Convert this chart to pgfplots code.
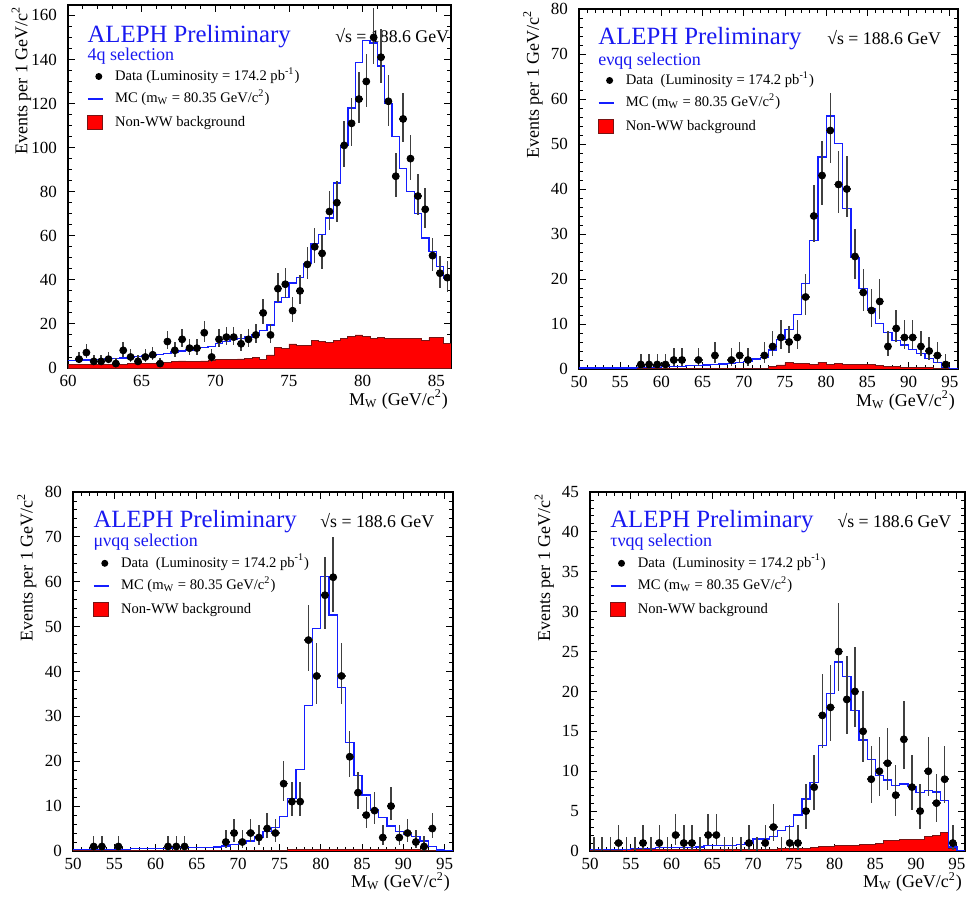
\documentclass[border=0pt]{standalone}
\usepackage{fontspec}
\setmainfont{Liberation Serif}
\usepackage{pgfplots}
\usepackage{pgfplotstable}
\pgfplotsset{compat=1.18}

\definecolor{mcblue}{RGB}{20,30,255}
\definecolor{alephblue}{RGB}{25,25,240}
\definecolor{bkgred}{RGB}{255,0,0}
\definecolor{bkgedge}{RGB}{120,20,20}

% ---- 4q selection (0.5 GeV bins) ----
\pgfplotstableread{
x y ep em
60.75 4 3.2 1.9
61.25 7 3.8 2.6
61.75 3 2.9 1.7
62.25 3 2.9 1.7
62.75 4 3.2 1.9
63.25 2 2.7 1.3
63.75 8 4.0 2.8
64.25 5 3.4 2.2
64.75 3 2.9 1.7
65.25 5 3.4 2.2
65.75 6 3.6 2.4
66.25 2 2.7 1.3
66.75 12 4.6 3.4
67.25 8 4.0 2.8
67.75 13 4.7 3.6
68.25 9 4.1 3.0
68.75 9 4.1 3.0
69.25 16 5.1 4.0
69.75 5 3.4 2.2
70.25 13 4.7 3.6
70.75 14 4.8 3.7
71.25 14 4.8 3.7
71.75 11 4.4 3.3
72.25 13 4.7 3.6
72.75 15 5.0 3.8
73.25 25 6.1 5.0
73.75 15 5.0 3.8
74.25 36 7.1 6.0
74.75 38 7.2 6.1
75.25 26 6.2 5.1
75.75 35 7.0 5.9
76.25 47 7.9 6.8
76.75 55 8.5 7.4
77.25 52 8.3 7.2
77.75 71 9.5 8.4
78.25 75 9.7 8.7
78.75 101 11.1 10.0
79.25 111 11.6 10.5
79.75 122 12.1 11.0
80.25 130 12.4 11.4
80.75 150 13.3 12.2
81.25 141 12.9 11.9
81.75 121 12.0 11.0
82.25 87 10.4 9.3
82.75 113 11.7 10.6
83.25 95 10.8 9.7
83.75 78 9.9 8.8
84.25 72 9.5 8.5
84.75 51 8.2 7.1
85.25 43 7.6 6.5
85.75 41 7.5 6.4
}\fqData

\pgfplotstableread{
x y
60.0 3.3
60.5 3.4
61.0 3.6
61.5 3.8
62.0 4.0
62.5 4.2
63.0 4.4
63.5 4.6
64.0 4.9
64.5 5.2
65.0 5.5
65.5 5.8
66.0 6.2
66.5 6.7
67.0 7.2
67.5 7.7
68.0 8.2
68.5 8.7
69.0 9.3
69.5 9.9
70.0 11.2
70.5 11.9
71.0 13.0
71.5 13.5
72.0 14.0
72.5 15.0
73.0 17.0
73.5 19.5
74.0 30.0
74.5 32.0
75.0 38.5
75.5 41.0
76.0 47.5
76.5 56.5
77.0 60.5
77.5 68.0
78.0 84.0
78.5 101.0
79.0 118.0
79.5 138.5
80.0 148.5
80.5 147.5
81.0 137.0
81.5 120.0
82.0 105.0
82.5 90.5
83.0 80.0
83.5 70.0
84.0 59.0
84.5 53.0
85.0 46.0
85.5 40.5
86.0 40.5
}\fqMC

\pgfplotstableread{
x y
60.0 1.5
60.5 1.5
61.0 1.6
61.5 1.6
62.0 1.7
62.5 1.7
63.0 1.8
63.5 1.8
64.0 1.9
64.5 2.0
65.0 2.1
65.5 2.2
66.0 2.4
66.5 2.5
67.0 3.0
67.5 3.2
68.0 3.0
68.5 3.0
69.0 3.2
69.5 3.3
70.0 3.8
70.5 4.0
71.0 4.0
71.5 4.1
72.0 4.2
72.5 4.6
73.0 3.8
73.5 5.9
74.0 9.2
74.5 8.9
75.0 10.9
75.5 10.4
76.0 10.4
76.5 12.4
77.0 12.0
77.5 11.5
78.0 12.3
78.5 13.5
79.0 14.2
79.5 15.0
80.0 14.5
80.5 13.5
81.0 13.9
81.5 13.5
82.0 13.5
82.5 13.4
83.0 13.4
83.5 13.6
84.0 12.7
84.5 13.8
85.0 13.8
85.5 11.2
86.0 11.2
}\fqBkg

% ---- e nu qq selection ----
\pgfplotstableread{
x y ep em
57.5 1 2.3 0.9
58.5 1 2.3 0.9
59.5 1 2.3 0.9
60.5 1 2.3 0.9
61.5 2 2.7 1.3
62.5 2 2.7 1.3
64.5 2 2.7 1.3
66.5 3 2.9 1.7
68.5 2 2.7 1.3
69.5 3 2.9 1.7
70.5 2 2.7 1.3
72.5 3 2.9 1.7
73.5 5 3.4 2.2
74.5 7 3.8 2.6
75.5 6 3.6 2.4
76.5 7 3.8 2.6
77.5 16 5.1 4.0
78.5 34 6.9 5.8
79.5 43 7.6 6.5
80.5 53 8.3 7.3
81.5 41 7.5 6.4
82.5 40 7.4 6.3
83.5 25 6.1 5.0
84.5 17 5.2 4.1
85.5 13 4.7 3.6
86.5 15 5.0 3.8
87.5 5 3.4 2.2
88.5 9 4.1 3.0
89.5 7 3.8 2.6
90.5 7 3.8 2.6
91.5 5 3.4 2.2
92.5 4 3.2 1.9
93.5 3 2.9 1.7
94.5 1 2.3 0.9
}\evData

\pgfplotstableread{
x y
50 0.2
51 0.2
52 0.2
53 0.2
54 0.2
55 0.2
56 0.2
57 0.3
58 0.3
59 0.4
60 0.5
61 0.6
62 0.6
63 0.7
64 0.8
65 0.9
66 1.0
67 1.1
68 1.2
69 1.4
70 1.6
71 2.2
72 2.6
73 4.2
74 6.6
75 8.7
76 12.1
77 19.0
78 28.6
79 47.1
80 56.2
81 50.1
82 35.7
83 24.7
84 17.9
85 13.3
86 10.1
87 8.1
88 6.3
89 5.3
90 4.4
91 3.5
92 2.4
93 1.4
94 0.4
95 0.15
96 0.15
}\evMC

\pgfplotstableread{
x y
50 0.1
60 0.1
70 0.1
72 0.2
73 0.5
74 0.9
75 1.4
76 1.3
77 1.2
78 1.1
79 1.5
80 1.1
81 1.3
82 1.0
83 1.1
84 1.0
85 1.0
86 0.8
87 0.6
88 0.5
89 0.4
90 0.4
91 0.3
92 0.3
93 0.2
94 0.2
95 0.1
96 0.1
}\evBkg

% ---- mu nu qq selection ----
\pgfplotstableread{
x y ep em
52.5 1 2.3 0.9
53.5 1 2.3 0.9
55.5 1 2.3 0.9
61.5 1 2.3 0.9
62.5 1 2.3 0.9
63.5 1 2.3 0.9
68.5 2 2.7 1.3
69.5 4 3.2 1.9
70.5 2 2.7 1.3
71.5 4 3.2 1.9
72.5 3 2.9 1.7
73.5 5 3.4 2.2
74.5 4 3.2 1.9
75.5 15 5.0 3.8
76.5 11 4.4 3.3
77.5 11 4.4 3.3
78.5 47 7.9 6.8
79.5 39 7.3 6.2
80.5 57 8.6 7.5
81.5 61 8.9 7.8
82.5 39 7.3 6.2
83.5 21 5.7 4.6
84.5 13 4.7 3.6
85.5 8 4.0 2.8
86.5 9 4.1 3.0
87.5 3 2.9 1.7
88.5 10 4.3 3.1
89.5 3 2.9 1.7
90.5 4 3.2 1.9
91.5 2 2.7 1.3
92.5 1 2.3 0.9
93.5 5 3.4 2.2
}\mnData

\pgfplotstableread{
x y
50 0.3
51 0.3
52 0.3
53 0.3
54 0.3
55 0.4
56 0.4
57 0.5
58 0.5
59 0.5
60 0.6
61 0.6
62 0.7
63 0.7
64 0.8
65 0.8
66 0.8
67 0.9
68 1.1
69 1.4
70 1.8
71 2.2
72 3.1
73 4.3
74 5.3
75 7.7
76 11.7
77 18.1
78 32.4
79 49.6
80 61.1
81 52.6
82 36.4
83 24.2
84 16.9
85 12.5
86 9.3
87 7.4
88 5.6
89 4.3
90 3.6
91 3.2
92 2.2
93 1.0
94 0.2
95 0.1
96 0.1
}\mnMC

\pgfplotstableread{
x y
50 0.1
52 0.2
54 0.1
76 0.3
92 0.1
96 0.1
}\mnBkg

% ---- tau nu qq selection ----
\pgfplotstableread{
x y ep em
53.5 1 2.3 0.9
56.5 1 2.3 0.9
58.5 1 2.3 0.9
60.5 2 2.7 1.3
61.5 1 2.3 0.9
62.5 1 2.3 0.9
64.5 2 2.7 1.3
65.5 2 2.7 1.3
69.5 1 2.3 0.9
71.5 1 2.3 0.9
72.5 3 2.9 1.7
74.5 1 2.3 0.9
75.5 1 2.3 0.9
76.5 5 3.4 2.2
77.5 8 4.0 2.8
78.5 17 5.2 4.1
79.5 18 5.3 4.2
80.5 25 6.1 5.0
81.5 19 5.4 4.3
82.5 20 5.6 4.4
83.5 15 5.0 3.8
84.5 9 4.1 3.0
85.5 10 4.3 3.1
86.5 11 4.4 3.3
87.5 7 3.8 2.6
88.5 14 4.8 3.7
89.5 8 4.0 2.8
90.5 5 3.4 2.2
91.5 10 4.3 3.1
92.5 6 3.6 2.4
93.5 9 4.1 3.0
94.5 1 2.3 0.9
}\tnData

\pgfplotstableread{
x y ep em
50.5 0 1.8 0
51.5 0 1.8 0
52.5 0 1.8 0
54.5 0 1.8 0
55.5 0 1.8 0
57.5 0 1.8 0
59.5 0 1.8 0
63.5 0 1.8 0
66.5 0 1.8 0
67.5 0 1.8 0
68.5 0 1.8 0
70.5 0 1.8 0
73.5 0 1.8 0
}\tnZero

\pgfplotstableread{
x y
50 0.2
51 0.2
52 0.2
53 0.2
54 0.2
55 0.3
56 0.3
57 0.3
58 0.4
59 0.4
60 0.4
61 0.4
62 0.4
63 0.5
64 0.7
65 0.7
66 0.7
67 0.7
68 0.8
69 1.0
70 1.5
71 1.5
72 1.8
73 2.6
74 3.1
75 4.5
76 6.5
77 8.6
78 13.2
79 19.7
80 23.7
81 21.9
82 17.6
83 13.9
84 11.5
85 9.5
86 8.9
87 8.2
88 8.4
89 8.1
90 7.3
91 7.6
92 7.4
93 6.3
94 0.5
95 0.1
96 0.1
}\tnMC

\pgfplotstableread{
x y
50 0.1
54 0.2
73 0.3
77 0.45
78 0.6
80 0.75
82 0.7
83 0.8
84 0.85
85 1.0
86 1.3
88 1.45
91 1.8
92 2.0
93 2.3
94 0.3
95 0.1
96 0.1
}\tnBkg

\pgfplotsset{
  alephaxis/.style={
    scale only axis,
    anchor=north west,
    tick align=inside,
    major tick length=3.5pt,
    minor tick length=2pt,
    axis line style={line width=0.55pt},
    every tick/.append style={line width=0.45pt, black},
    /pgf/number format/assume math mode=true,
    ticklabel style={font=\fontsize{8.5}{10}\selectfont},
    yticklabel style={xshift=-2pt},
    minor x tick num=4,
    xlabel={M\textsubscript{W} (GeV/c\textsuperscript{2})},
    ylabel={Events per 1 GeV/c\textsuperscript{2}},
    label style={font=\fontsize{9}{10}\selectfont},
    xlabel style={at={(axis description cs:0.993,-0.103)}, anchor=base east, inner sep=0pt},
    ylabel style={at={(axis description cs:-0.095,0.998)}, anchor=south east, inner sep=0pt},
    legend cell align=left,
    legend style={draw=none, fill=none, inner sep=0pt, outer sep=0pt,
      font=\fontsize{7.3}{8.5}\selectfont, row sep=4.6pt,
      nodes={inner sep=0pt, text height=5.2pt, text depth=1.5pt},
      /tikz/every odd column/.append style={column sep=5.8pt}},
  },
  datapts/.style={only marks, mark=*, mark size=1.75pt, black,
    error bars/.cd, y dir=both, y explicit, x dir=both, x fixed=#1,
    error mark=none, error bar style={line width=0.75pt, black!75}},
  mcline/.style={const plot, draw=mcblue, line width=0.65pt},
  bkgfill/.style={const plot, fill=bkgred, draw=bkgedge, line width=0.4pt},
}

\newcommand{\alephlegend}[1]{%
  \addlegendimage{legend image code/.code={\path[draw=none, fill=none] (0pt,-2pt) rectangle (7.5pt,2pt); \fill[black, draw=none] (5.5pt,0pt) circle (1.75pt);}}
  \addlegendentry{#1}
  \addlegendimage{legend image code/.code={\draw[mcblue, line width=0.65pt] (0pt,0pt) -- (7.5pt,0pt);}}
  \addlegendentry{MC (m\textsubscript{W} = 80.35 GeV/c\textsuperscript{2})}
  \addlegendimage{legend image code/.code={\draw[fill=bkgred, draw=bkgedge, line width=0.4pt] (0pt,-3.6pt) rectangle (7.5pt,3.6pt);}}
  \addlegendentry{Non-WW background}
}

\newcommand{\alephtext}[5]{%
  \node[anchor=base west, inner sep=0pt, font=\fontsize{12.4}{14}\selectfont, text=alephblue] at (axis description cs:#1,#2) {ALEPH Preliminary};
  \node[anchor=base west, inner sep=0pt, font=\fontsize{8.9}{10}\selectfont] at (axis description cs:#3,#2) {√s = 188.6 GeV};
  \node[anchor=base west, inner sep=0pt, font=\fontsize{9}{10}\selectfont, text=alephblue] at (axis description cs:#1,#4) {#5};
}

\begin{document}
\begin{tikzpicture}
\useasboundingbox (0,0) rectangle (484.5pt,450.5pt);

% top left: 4q
\begin{axis}[alephaxis, at={(34pt,448pt)}, width=191.5pt, height=181.5pt,
  xmin=60, xmax=86, ymin=0, ymax=164.7,
  xtick={60,65,...,85}, ytick={0,20,...,160}, minor y tick num=3,
  legend style={at={(axis description cs:0.05,0.8215)}, anchor=north west}]
  \alephlegend{Data (Luminosity = 174.2 pb\textsuperscript{-1})}
  \addplot[bkgfill] table[x=x,y=y] {\fqBkg} \closedcycle;
  \addplot[mcline] table[x=x,y=y] {\fqMC};
  \alephtext{0.05}{0.898}{0.697}{0.846}{4q selection}
  \addplot[datapts=0.25] table[x=x,y=y,y error plus=ep,y error minus=em] {\fqData};
\end{axis}

% top right: e nu qq
\begin{axis}[alephaxis, at={(289.5pt,446pt)}, width=189.5pt, height=180pt,
  xmin=50, xmax=96, ymin=0, ymax=80,
  xtick={50,55,...,95}, ytick={0,10,...,80}, minor y tick num=4,
  legend style={at={(axis description cs:0.05,0.82)}, anchor=north west}]
  \alephlegend{Data\ \ (Luminosity = 174.2 pb\textsuperscript{-1})}
  \addplot[bkgfill] table[x=x,y=y] {\evBkg} \closedcycle;
  \addplot[mcline] table[x=x,y=y] {\evMC};
  \addplot[datapts=0.5] table[x=x,y=y,y error plus=ep,y error minus=em] {\evData};
  \alephtext{0.05}{0.9}{0.654}{0.844}{eνqq selection}
\end{axis}

% bottom left: mu nu qq
\begin{axis}[alephaxis, at={(36.5pt,204.5pt)}, width=190pt, height=179.5pt,
  xmin=50, xmax=96, ymin=0, ymax=80,
  xtick={50,55,...,95}, ytick={0,10,...,80}, minor y tick num=4,
  legend style={at={(axis description cs:0.053,0.82)}, anchor=north west}]
  \alephlegend{Data\ \ (Luminosity = 174.2 pb\textsuperscript{-1})}
  \addplot[bkgfill] table[x=x,y=y] {\mnBkg} \closedcycle;
  \addplot[mcline] table[x=x,y=y] {\mnMC};
  \addplot[datapts=0.5] table[x=x,y=y,y error plus=ep,y error minus=em] {\mnData};
  \alephtext{0.053}{0.9}{0.65}{0.848}{μνqq selection}
\end{axis}

% bottom right: tau nu qq
\begin{axis}[alephaxis, at={(295pt,204.5pt)}, width=187.5pt, height=179.5pt,
  xmin=50, xmax=96, ymin=0, ymax=45,
  xtick={50,55,...,95}, ytick={0,5,...,45}, minor y tick num=4,
  legend style={at={(axis description cs:0.053,0.82)}, anchor=north west}]
  \alephlegend{Data\ \ (Luminosity = 174.2 pb\textsuperscript{-1})}
  \addplot[bkgfill] table[x=x,y=y] {\tnBkg} \closedcycle;
  \addplot[mcline] table[x=x,y=y] {\tnMC};
  \addplot[only marks, mark=*, mark options={draw=none, fill=none, scale=0.01}, black,
    error bars/.cd, y dir=plus, y explicit, error mark=none,
    error bar style={line width=0.75pt, black!75}] table[x=x,y=y,y error plus=ep] {\tnZero};
  \addplot[datapts=0.5] table[x=x,y=y,y error plus=ep,y error minus=em] {\tnData};
  \alephtext{0.053}{0.9}{0.659}{0.848}{τνqq selection}
\end{axis}
\end{tikzpicture}
\end{document}
